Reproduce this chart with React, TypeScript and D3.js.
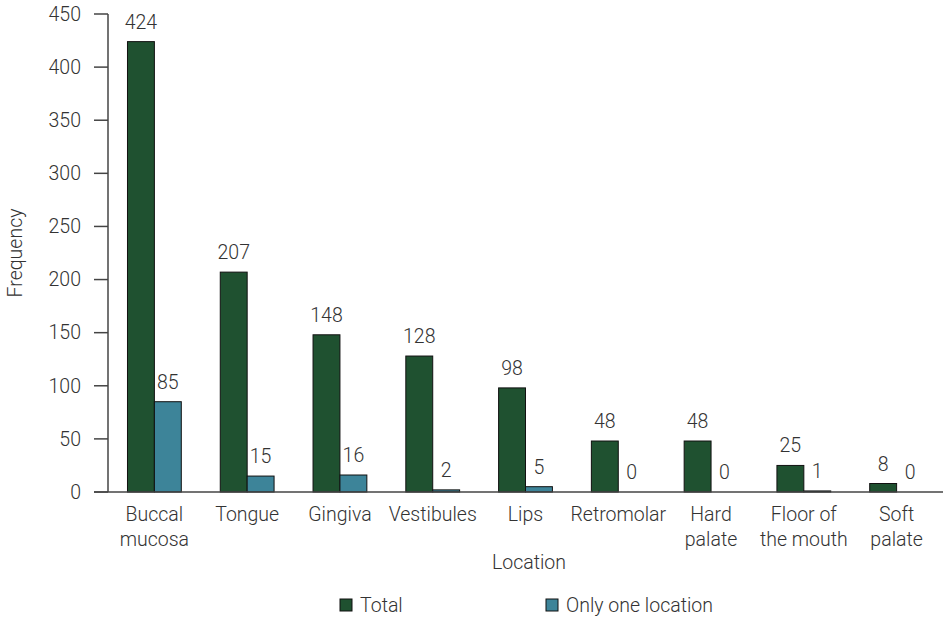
import React from "react";
import * as d3 from "d3";

const categories: string[][] = [
  ["Buccal", "mucosa"],
  ["Tongue"],
  ["Gingiva"],
  ["Vestibules"],
  ["Lips"],
  ["Retromolar"],
  ["Hard", "palate"],
  ["Floor of", "the mouth"],
  ["Soft", "palate"],
];
const totalValues = [424, 207, 148, 128, 98, 48, 48, 25, 8];
const onlyOneValues = [85, 15, 16, 2, 5, 0, 0, 1, 0];
const seriesNames = ["Total", "Only one location"];
const seriesColors = ["#1f5130", "#3d8499"];
const yTicks = [0, 50, 100, 150, 200, 250, 300, 350, 400, 450];

export default function App() {
  const W = 944, H = 619;
  const x0 = 108, x1 = 943, yTop = 14, yBot = 492;
  const font = "Roboto, 'Open Sans', sans-serif";
  const fs = 19.5;
  const y = d3.scaleLinear().domain([0, 450]).range([yBot, yTop]);
  const x = d3.scaleBand<number>().domain(d3.range(categories.length)).range([x0, x1]).paddingInner(0.42).paddingOuter(0.21);
  const xs = d3.scaleBand<number>().domain([0, 1]).range([0, x.bandwidth()]);
  const series = [totalValues, onlyOneValues];
  const txt = "#333";
  return (
    <svg width={W} height={H} style={{ position: "absolute", left: 0, top: 0 }} fontFamily={font}>
      {/* y axis */}
      <line x1={x0} x2={x0} y1={yTop} y2={yBot} stroke="#444" strokeWidth={1.5} />
      {yTicks.map((t) => (
        <g key={t}>
          <line x1={94} x2={x0} y1={y(t)} y2={y(t)} stroke="#444" strokeWidth={1.5} />
          <text x={81} y={y(t)} dy="0.35em" textAnchor="end" fontSize={fs} fontWeight={300} fill={txt}>{t}</text>
        </g>
      ))}
      {/* bars */}
      {categories.map((c, i) => (
        <g key={i} transform={`translate(${x(i)},0)`}>
          {series.map((s, j) => {
            const v = s[i];
            const bx = xs(j)!;
            const bw = xs.bandwidth();
            return (
              <g key={j}>
                {v > 0 && (
                  <rect x={bx} y={y(v)} width={bw} height={yBot - y(v)} fill={seriesColors[j]} stroke="#111" strokeWidth={1} />
                )}
                <text x={bx + bw / 2} y={y(v) - 13} textAnchor="middle" fontSize={fs} fontWeight={300} fill={txt}>{v}</text>
              </g>
            );
          })}
          {c.map((line, k) => (
            <text key={k} x={x.bandwidth() / 2} y={521 + k * 25} textAnchor="middle" fontSize={fs} fontWeight={300} fill={txt}>{line}</text>
          ))}
        </g>
      ))}
      {/* x axis */}
      <line x1={94} x2={x1} y1={yBot} y2={yBot} stroke="#444" strokeWidth={1.5} />
      {/* titles */}
      <text x={529} y={569} textAnchor="middle" fontSize={fs} fontWeight={300} fill={txt}>Location</text>
      <text transform={`translate(22,253) rotate(-90)`} textAnchor="middle" fontSize={fs} fontWeight={300} fill={txt}>Frequency</text>
      {/* legend */}
      {seriesNames.map((n, j) => {
        const lx = j === 0 ? 340 : 546;
        return (
          <g key={n}>
            <rect x={lx} y={599} width={12} height={12} fill={seriesColors[j]} stroke="#111" strokeWidth={1} />
            <text x={lx + 20} y={612} fontSize={fs} fontWeight={300} fill={txt}>{n}</text>
          </g>
        );
      })}
    </svg>
  );
}
